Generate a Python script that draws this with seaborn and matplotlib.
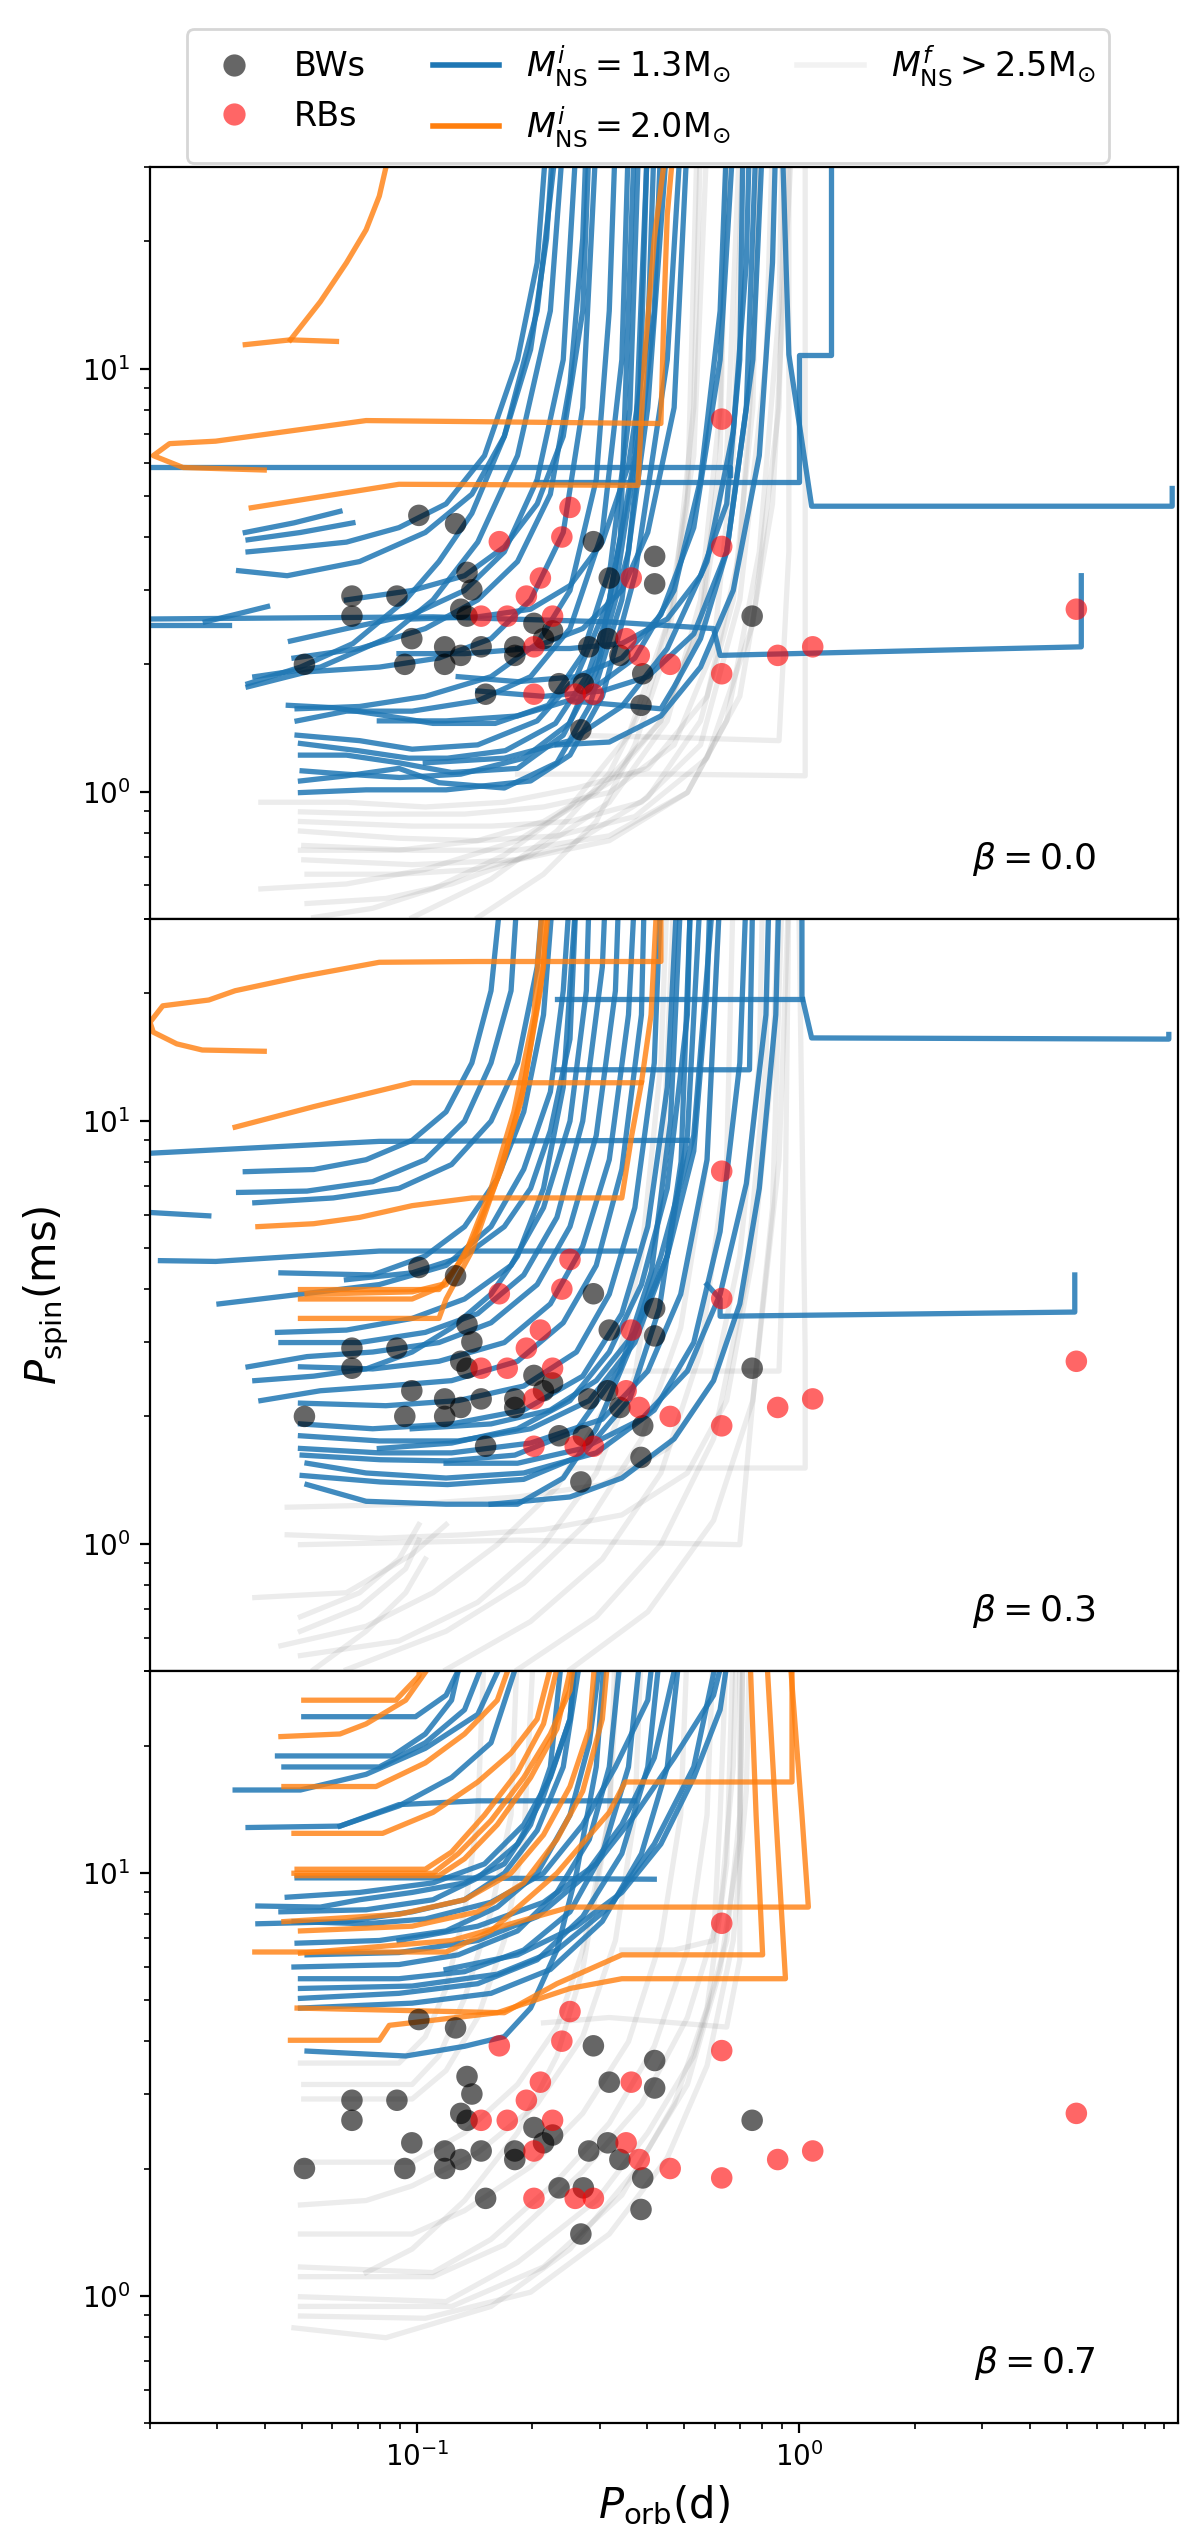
import numpy as np
import pandas as pd
import matplotlib
matplotlib.use("Agg")
import matplotlib.pyplot as plt
from matplotlib.lines import Line2D
import seaborn as sns

# ---------------- observed systems ----------------
bw_porb = [0.0507, 0.0675, 0.0675, 0.0885, 0.0928, 0.0968, 0.101, 0.126, 0.118, 0.118,
           0.130, 0.135, 0.139, 0.130, 0.135, 0.147, 0.151, 0.180, 0.180, 0.202,
           0.214, 0.226, 0.235, 0.272, 0.268, 0.281, 0.289, 0.315, 0.318, 0.339,
           0.389, 0.385, 0.418, 0.418, 0.752]
bw_pspin = [2.0, 2.9, 2.6, 2.9, 2.0, 2.3, 4.5, 4.3, 2.2, 2.0,
            2.1, 3.3, 3.0, 2.7, 2.6, 2.2, 1.7, 2.2, 2.1, 2.5,
            2.3, 2.4, 1.8, 1.8, 1.4, 2.2, 3.9, 2.3, 3.2, 2.1,
            1.9, 1.6, 3.6, 3.1, 2.6]
rb_porb = [0.251, 0.239, 0.164, 0.210, 0.193, 0.147, 0.172, 0.226, 0.202, 0.202,
           0.259, 0.289, 0.363, 0.352, 0.381, 0.459, 0.626, 0.626, 0.626, 0.877,
           1.083, 5.30]
rb_pspin = [4.7, 4.0, 3.9, 3.2, 2.9, 2.6, 2.6, 2.6, 2.2, 1.7,
            1.7, 1.7, 3.2, 2.3, 2.1, 2.0, 7.6, 3.8, 1.9, 2.1,
            2.2, 2.7]

beta_labels = ["0.0", "0.3", "0.7"]

# ---------------- evolutionary tracks, beta = 0.0 ----------------
blue_b00 = [
    ([0.0355, 0.0476, 0.0628], [4.10, 4.32, 4.60]),
    ([0.0361, 0.0495, 0.0679], [3.94, 4.10, 4.32]),
    ([0.0361, 0.0495, 0.0653, 0.0896, 0.119, 0.150, 0.183, 0.206, 0.218], [3.69, 3.79, 3.89, 4.21, 4.79, 6.23, 10.5, 17.8, 35]),
    ([0.0341, 0.0457, 0.0707, 0.105, 0.139, 0.169, 0.198, 0.218, 0.227], [3.33, 3.24, 3.50, 4.10, 5.05, 6.92, 11.1, 20.3, 35]),
    ([0.0361, 0.0495, 0.0679, 0.0933, 0.114, 0.139, 0.169, 0.206, 0.232], [1.80, 1.97, 2.24, 2.84, 3.50, 4.55, 6.92, 13.7, 35]),
    ([0.0376, 0.0558, 0.0828, 0.110, 0.144, 0.183, 0.223, 0.241], [1.87, 1.97, 2.30, 2.84, 3.89, 6.23, 13.7, 35]),
    ([0.0466, 0.0653, 0.097, 0.133, 0.169, 0.206, 0.241, 0.261], [2.27, 2.43, 2.62, 2.99, 3.69, 5.47, 10.5, 35]),
    ([0.0476, 0.0707, 0.105, 0.144, 0.183, 0.223, 0.251, 0.271, 0.277], [2.07, 2.18, 2.43, 2.84, 3.50, 5.05, 9.23, 20.3, 35]),
    ([0.0361, 0.0515, 0.0796, 0.114, 0.156, 0.198, 0.241, 0.271, 0.294], [1.77, 1.92, 1.97, 2.07, 2.30, 2.84, 4.10, 8.09, 35]),
    ([0.0485, 0.0707, 0.105, 0.156, 0.206, 0.251, 0.294, 0.318, 0.330], [1.57, 1.59, 1.68, 1.87, 2.24, 2.99, 5.47, 13.7, 35]),
    ([0.0485, 0.0653, 0.097, 0.144, 0.198, 0.251, 0.305, 0.343, 0.357], [1.47, 1.55, 1.55, 1.64, 1.87, 2.43, 4.10, 10.5, 35]),
    ([0.0485, 0.0707, 0.097, 0.144, 0.206, 0.261, 0.318, 0.371, 0.401], [1.36, 1.32, 1.26, 1.29, 1.47, 1.87, 2.84, 6.23, 35]),
    ([0.0495, 0.0653, 0.0896, 0.123, 0.183, 0.241, 0.294, 0.357, 0.417, 0.434], [1.22, 1.22, 1.17, 1.11, 1.135, 1.36, 1.92, 3.69, 13.7, 35]),
    ([0.0495, 0.0653, 0.0896, 0.114, 0.169, 0.232, 0.282, 0.343, 0.401, 0.451], [1.06, 1.09, 1.135, 1.05, 1.02, 1.17, 1.59, 2.84, 8.09, 35]),
    ([0.0495, 0.0735, 0.119, 0.198, 0.251, 0.305, 0.371, 0.451, 0.489], [0.995, 1.01, 1.01, 1.06, 1.22, 1.68, 3.24, 10.5, 35]),
    ([0.0495, 0.070, 0.095, 0.120, 0.170, 0.230, 0.280, 0.330, 0.380, 0.400], [1.30, 1.25, 1.20, 1.20, 1.25, 1.45, 1.90, 3.00, 7.00, 35]),
    ([0.0460, 0.060, 0.080, 0.110, 0.160, 0.220, 0.270, 0.320, 0.360, 0.380], [1.60, 1.58, 1.52, 1.45, 1.45, 1.60, 2.10, 3.40, 8.00, 35]),
    ([0.0500, 0.065, 0.090, 0.130, 0.190, 0.250, 0.300, 0.340, 0.370], [1.12, 1.10, 1.08, 1.10, 1.20, 1.45, 2.10, 4.00, 35]),
    ([0.128, 0.183, 0.261, 0.343, 0.434, 0.529, 0.620, 0.671], [1.87, 1.82, 1.87, 2.07, 2.62, 4.21, 10.5, 35]),
    ([0.144, 0.214, 0.305, 0.401, 0.529, 0.645, 0.755, 0.801], [1.73, 1.68, 1.73, 1.87, 2.36, 3.69, 10.5, 35]),
    ([0.232, 0.318, 0.434, 0.551, 0.671, 0.785, 0.850, 0.867], [1.29, 1.31, 1.51, 1.97, 2.99, 6.23, 17.8, 35]),
    ([0.0896, 0.133, 0.198, 0.271, 0.343, 0.401, 0.470, 0.509], [2.12, 2.12, 2.18, 2.43, 2.99, 4.10, 8.09, 35]),
    ([0.097, 0.144, 0.198, 0.251, 0.305, 0.357, 0.401, 0.417], [2.56, 2.59, 2.70, 3.07, 3.89, 5.91, 12.0, 35]),
    ([0.0653, 0.097, 0.133, 0.169, 0.206, 0.241, 0.271, 0.282], [2.84, 2.99, 3.24, 3.79, 4.79, 6.92, 13.7, 35]),
    ([0.251, 0.371, 0.434, 0.470, 0.551, 0.645, 0.726, 0.770], [1.64, 1.59, 1.57, 1.77, 2.30, 3.69, 8.09, 35]),
    ([0.183, 0.251, 0.343, 0.451, 0.551, 0.645, 0.698, 0.712], [2.18, 2.18, 2.24, 2.56, 3.24, 4.79, 10.5, 35]),
    ([0.0796, 0.119, 0.183, 0.271, 0.371, 0.470, 0.551, 0.620, 0.645], [1.47, 1.47, 1.51, 1.68, 2.07, 2.99, 5.47, 13.7, 35]),
    ([0.105, 0.169, 0.251, 0.343, 0.451, 0.573, 0.671, 0.726, 0.740], [1.17, 1.20, 1.32, 1.59, 2.18, 3.50, 7.10, 17.8, 35]),
    ([0.020, 0.097, 0.658, 0.658], [5.84, 5.84, 5.84, 5.62]),
    ([0.020, 0.0321], [2.48, 2.48]),
    ([0.0279, 0.0406], [2.52, 2.74]),
    ([0.020, 0.110, 0.318, 0.596, 0.620, 3.53, 5.46, 5.46], [2.56, 2.59, 2.52, 2.43, 2.10, 2.18, 2.20, 3.24]),
    ([0.206, 0.995, 0.995, 1.21, 1.21], [5.40, 5.40, 10.8, 10.8, 35]),
    ([9.44, 9.44, 1.076, 0.938, 0.901], [5.21, 4.73, 4.73, 10.8, 35]),
]
orange_b00 = [
    ([0.0615, 0.0466, 0.0355], [11.6, 11.7, 11.4]),
    ([0.0466, 0.0558, 0.0653, 0.0735, 0.0796, 0.0862], [11.7, 14.4, 17.8, 21.3, 25.6, 35]),
    ([0.0398, 0.0244, 0.0204, 0.0225, 0.0297, 0.0735, 0.434, 0.442, 0.451, 0.470], [5.76, 5.84, 6.23, 6.65, 6.74, 7.54, 7.42, 13.7, 23.1, 35]),
    ([0.0368, 0.0896, 0.378, 0.393, 0.417, 0.451], [4.69, 5.33, 5.30, 10.5, 20.3, 35]),
]
grey_b00 = [
    ([0.0390, 0.0653, 0.105, 0.169, 0.261, 0.401, 0.573, 0.698, 0.755, 0.785], [0.944, 0.944, 0.920, 0.944, 1.02, 1.135, 1.68, 3.69, 10.5, 35]),
    ([0.0495, 0.0796, 0.133, 0.214, 0.318, 0.470, 0.596, 0.671, 0.712], [0.896, 0.885, 0.885, 0.920, 0.995, 1.29, 2.18, 6.23, 35]),
    ([0.0495, 0.097, 0.156, 0.251, 0.386, 0.551, 0.698, 0.817, 0.850], [0.850, 0.829, 0.829, 0.850, 0.944, 1.29, 2.84, 10.5, 35]),
    ([0.0495, 0.0896, 0.144, 0.232, 0.371, 0.573, 0.755, 0.884, 0.919], [0.807, 0.776, 0.766, 0.786, 0.873, 1.20, 2.49, 8.09, 35]),
    ([0.0505, 0.097, 0.183, 0.318, 0.509, 0.698, 0.850, 0.956], [0.746, 0.727, 0.727, 0.786, 0.995, 1.68, 4.79, 35]),
    ([0.0505, 0.097, 0.183, 0.318, 0.509, 0.645, 0.785, 0.884, 0.901], [0.690, 0.672, 0.690, 0.766, 0.995, 1.47, 3.69, 13.7, 35]),
    ([0.0515, 0.0896, 0.144, 0.251, 0.401, 0.551, 0.671, 0.755, 0.785], [0.638, 0.638, 0.655, 0.746, 0.969, 1.47, 2.84, 8.09, 35]),
    ([0.0390, 0.0653, 0.105, 0.183, 0.294, 0.434, 0.551, 0.645, 0.698], [0.589, 0.605, 0.655, 0.766, 0.995, 1.47, 2.49, 6.23, 35]),
    ([0.0515, 0.0828, 0.123, 0.198, 0.318, 0.451, 0.551, 0.620, 0.645], [0.544, 0.559, 0.605, 0.708, 0.944, 1.47, 2.84, 8.09, 35]),
    ([0.0536, 0.0765, 0.110, 0.169, 0.251, 0.357, 0.451, 0.529, 0.573], [0.504, 0.530, 0.589, 0.708, 0.920, 1.36, 2.49, 6.23, 35]),
    ([0.097, 0.156, 0.232, 0.318, 0.401, 0.470, 0.529, 0.551], [0.504, 0.621, 0.807, 1.105, 1.68, 2.84, 8.09, 35]),
    ([0.144, 0.214, 0.294, 0.371, 0.451, 0.509, 0.540], [0.504, 0.638, 0.850, 1.29, 2.18, 4.79, 35]),
    ([0.0495, 0.0896, 0.144, 0.214, 0.318, 0.434, 0.551, 0.620, 0.645], [0.727, 0.727, 0.766, 0.850, 1.05, 1.47, 2.49, 6.23, 35]),
    ([0.183, 0.470, 1.035, 1.035, 1.035], [1.10, 1.10, 1.09, 2.18, 35]),
    ([0.251, 0.509, 0.884, 0.938, 0.938], [1.36, 1.34, 1.32, 3.69, 35]),
]

# ---------------- evolutionary tracks, beta = 0.3 ----------------
blue_b03 = [
    ([0.020, 0.0796, 0.509], [8.38, 8.94, 8.99]),
    ([0.020, 0.0285], [6.07, 5.96]),
    ([0.0213, 0.0297, 0.0796, 0.371], [4.67, 4.65, 4.92, 4.92]),
    ([9.25, 9.25, 1.076, 1.015, 1.015], [16.0, 15.6, 15.7, 19.7, 35]),
    ([0.232, 1.015], [19.4, 19.4]),
    ([0.232, 0.740, 0.755], [13.2, 13.2, 35]),
    ([0.573, 0.620, 0.620, 5.25, 5.25], [4.10, 3.79, 3.45, 3.53, 4.32]),
    ([0.0355, 0.0536, 0.0735, 0.097, 0.119, 0.139, 0.156, 0.166], [7.58, 7.67, 8.09, 8.99, 10.5, 13.7, 20.3, 35]),
    ([0.0341, 0.0515, 0.0765, 0.105, 0.133, 0.156, 0.176, 0.183], [6.77, 6.82, 7.18, 8.09, 9.98, 13.7, 20.3, 35]),
    ([0.0376, 0.0603, 0.0896, 0.123, 0.156, 0.183, 0.206, 0.214], [6.40, 6.57, 6.92, 7.88, 9.98, 13.7, 23.1, 35]),
    ([0.0440, 0.0765, 0.105, 0.133, 0.162, 0.190, 0.214, 0.227], [4.37, 4.32, 4.79, 5.62, 7.29, 10.5, 17.8, 35]),
    ([0.0303, 0.0495, 0.0796, 0.119, 0.156, 0.190, 0.223, 0.241, 0.251], [3.69, 3.89, 4.10, 4.55, 5.62, 7.68, 11.7, 20.3, 35]),
    ([0.0431, 0.0653, 0.097, 0.133, 0.176, 0.214, 0.251, 0.277, 0.282], [3.16, 3.20, 3.41, 3.79, 4.55, 6.23, 9.98, 20.3, 35]),
    ([0.0440, 0.0707, 0.105, 0.144, 0.190, 0.232, 0.271, 0.305, 0.311], [2.99, 2.99, 3.16, 3.50, 4.32, 5.91, 9.98, 23.1, 35]),
    ([0.0361, 0.0515, 0.0765, 0.114, 0.156, 0.206, 0.251, 0.294, 0.330, 0.337], [2.62, 2.77, 2.84, 2.99, 3.33, 4.10, 5.62, 9.23, 20.3, 35]),
    ([0.0495, 0.0765, 0.114, 0.169, 0.223, 0.271, 0.318, 0.357, 0.371], [2.62, 2.59, 2.70, 2.99, 3.69, 5.05, 8.09, 17.8, 35]),
    ([0.0390, 0.0558, 0.0828, 0.123, 0.183, 0.241, 0.294, 0.343, 0.386, 0.393], [2.18, 2.30, 2.36, 2.43, 2.70, 3.33, 4.55, 7.68, 17.8, 35]),
    ([0.0495, 0.0828, 0.128, 0.190, 0.261, 0.318, 0.371, 0.417, 0.434], [2.15, 2.12, 2.18, 2.36, 2.84, 3.89, 6.23, 13.7, 35]),
    ([0.0495, 0.0765, 0.123, 0.190, 0.271, 0.343, 0.401, 0.451, 0.479], [1.92, 1.87, 1.92, 2.07, 2.49, 3.50, 5.62, 12.0, 35]),
    ([0.0495, 0.0796, 0.128, 0.198, 0.282, 0.371, 0.451, 0.509, 0.551], [1.80, 1.75, 1.75, 1.87, 2.18, 2.99, 4.79, 9.23, 35]),
    ([0.0495, 0.0796, 0.123, 0.198, 0.305, 0.401, 0.489, 0.573, 0.620], [1.68, 1.64, 1.64, 1.73, 1.97, 2.56, 3.89, 8.09, 35]),
    ([0.0515, 0.0735, 0.119, 0.190, 0.294, 0.417, 0.529, 0.620, 0.698, 0.726], [1.55, 1.47, 1.43, 1.47, 1.64, 2.07, 2.99, 5.47, 13.7, 35]),
    ([0.0515, 0.0735, 0.119, 0.183, 0.241, 0.294, 0.357, 0.434, 0.529, 0.596], [1.38, 1.26, 1.24, 1.24, 1.43, 1.87, 2.84, 4.79, 9.23, 35]),
    ([0.0500, 0.080, 0.120, 0.190, 0.270, 0.360, 0.430, 0.490, 0.520], [1.45, 1.40, 1.38, 1.42, 1.62, 2.20, 3.60, 8.00, 35]),
    ([0.0500, 0.080, 0.120, 0.180, 0.260, 0.340, 0.410, 0.460, 0.490], [1.62, 1.58, 1.57, 1.62, 1.85, 2.60, 4.40, 10.0, 35]),
    ([0.0796, 0.123, 0.183, 0.251, 0.318, 0.386, 0.451, 0.509, 0.519], [1.68, 1.73, 1.87, 2.18, 2.84, 4.10, 6.92, 17.8, 35]),
    ([0.097, 0.156, 0.223, 0.294, 0.371, 0.451, 0.529, 0.573, 0.584], [1.87, 1.92, 2.07, 2.43, 3.16, 4.79, 8.48, 20.3, 35]),
    ([0.119, 0.183, 0.271, 0.386, 0.509, 0.620, 0.726, 0.817, 0.833], [1.55, 1.55, 1.68, 1.97, 2.56, 3.89, 7.10, 17.8, 35]),
    ([0.0376, 0.0536, 0.0735, 0.097, 0.123, 0.156, 0.183, 0.214, 0.241, 0.261], [2.43, 2.49, 2.59, 2.84, 3.24, 3.89, 4.79, 6.92, 12.0, 35]),
    ([0.0653, 0.097, 0.133, 0.169, 0.198, 0.223, 0.251, 0.261], [4.21, 4.37, 4.79, 5.62, 6.92, 9.47, 15.6, 35]),
    ([0.156, 0.251, 0.343, 0.470, 0.596, 0.698, 0.785, 0.867, 0.884], [1.24, 1.29, 1.43, 1.77, 2.43, 3.69, 6.92, 17.8, 35]),
]
orange_b03 = [
    ([0.0398, 0.0274, 0.0235, 0.0204, 0.0200, 0.0216, 0.0285, 0.0334, 0.0495, 0.0796, 0.144, 0.434, 0.434],
     [14.6, 14.7, 15.2, 16.2, 17.1, 18.7, 19.3, 20.3, 21.9, 23.7, 23.8, 23.8, 35]),
    ([0.0334, 0.0536, 0.097, 0.386, 0.409, 0.425], [9.66, 10.8, 12.3, 12.3, 17.8, 35]),
    ([0.0383, 0.0536, 0.0707, 0.097, 0.139, 0.343, 0.364, 0.386], [5.62, 5.71, 5.91, 6.30, 6.57, 6.57, 9.23, 12.3]),
    ([0.0495, 0.114, 0.133, 0.156, 0.179, 0.202, 0.214], [3.99, 3.99, 4.79, 6.92, 10.5, 17.8, 35]),
    ([0.0495, 0.114, 0.119, 0.139, 0.162, 0.187, 0.210, 0.223], [3.41, 3.41, 3.79, 4.92, 7.29, 11.1, 20.3, 35]),
    ([0.0495, 0.097, 0.119, 0.141, 0.166, 0.190, 0.214, 0.218], [3.79, 3.79, 4.10, 5.33, 7.68, 12.0, 23.1, 35]),
    ([0.0515, 0.097, 0.116], [3.89, 3.94, 4.10]),
]
grey_b03 = [
    ([0.0457, 0.0796, 0.133, 0.214, 0.343, 0.509, 0.645, 0.755, 0.850, 0.884], [1.05, 1.03, 1.05, 1.08, 1.17, 1.47, 2.18, 4.79, 13.7, 35]),
    ([0.0376, 0.0653, 0.097, 0.119], [0.746, 0.766, 0.944, 1.11]),
    ([0.0495, 0.0707, 0.0896, 0.101], [0.672, 0.766, 0.920, 1.11]),
    ([0.0495, 0.0707, 0.0933, 0.101], [0.621, 0.708, 0.873, 1.02]),
    ([0.0536, 0.0735, 0.0933, 0.105], [0.504, 0.621, 0.766, 0.920]),
    ([0.0440, 0.0735, 0.110, 0.162, 0.232, 0.318, 0.386, 0.434, 0.451], [0.574, 0.638, 0.766, 0.995, 1.36, 2.18, 4.79, 13.7, 35]),
    ([0.0495, 0.0896, 0.144, 0.214, 0.294, 0.371, 0.434, 0.470], [0.544, 0.589, 0.727, 0.995, 1.47, 2.49, 6.23, 35]),
    ([0.0653, 0.119, 0.190, 0.282, 0.386, 0.489, 0.573, 0.620], [0.504, 0.621, 0.807, 1.135, 1.77, 3.24, 8.09, 35]),
    ([0.119, 0.198, 0.305, 0.434, 0.551, 0.645, 0.671], [0.504, 0.655, 0.920, 1.47, 2.84, 8.09, 35]),
    ([0.183, 0.294, 0.434, 0.596, 0.726, 0.817, 0.833], [0.504, 0.672, 0.995, 1.77, 4.21, 13.7, 35]),
    ([0.251, 0.401, 0.596, 0.755, 0.850, 0.901], [0.504, 0.690, 1.135, 2.18, 6.23, 35]),
    ([0.0495, 0.183, 0.698, 0.755, 0.884, 0.938], [0.995, 1.02, 0.995, 2.18, 8.09, 35]),
    ([0.251, 1.035, 1.035, 0.995], [1.51, 1.51, 2.84, 35]),
    ([0.318, 0.884, 0.919, 0.938], [2.56, 2.56, 6.92, 35]),
    ([0.0457, 0.097, 0.183, 0.305, 0.451, 0.596, 0.698, 0.785, 0.801], [1.22, 1.24, 1.29, 1.38, 1.68, 2.43, 4.79, 13.7, 35]),
]

# ---------------- evolutionary tracks, beta = 0.7 ----------------
blue_b07 = [
    ([0.0505, 0.099, 0.119, 0.139], [23.4, 23.4, 26.3, 35]),
    ([0.0431, 0.0862, 0.105, 0.123, 0.133], [18.9, 18.9, 21.3, 25.6, 35]),
    ([0.0448, 0.0796, 0.105, 0.133, 0.156], [17.8, 17.8, 20.3, 24.3, 35]),
    ([0.0334, 0.0495, 0.0735, 0.105, 0.144, 0.176], [15.7, 15.7, 17.1, 19.7, 23.7, 35]),
    ([0.0361, 0.0628, 0.0896, 0.123, 0.156, 0.190], [12.8, 12.9, 14.4, 16.8, 20.3, 35]),
    ([0.0628, 0.0896, 0.144, 0.371], [12.9, 14.5, 14.8, 14.8]),
    ([0.0485, 0.119, 0.417], [9.73, 9.73, 9.66]),
    ([0.0383, 0.0558, 0.0707, 0.097, 0.133, 0.169, 0.198, 0.223, 0.241], [8.35, 8.30, 8.64, 8.99, 9.47, 10.5, 13.0, 17.8, 35]),
    ([0.0383, 0.0653, 0.097, 0.133, 0.169, 0.206, 0.241, 0.271], [7.58, 7.67, 8.09, 8.64, 9.98, 12.6, 17.8, 35]),
    ([0.0485, 0.0796, 0.119, 0.162, 0.206, 0.251, 0.282, 0.305], [6.82, 6.92, 7.29, 8.30, 9.98, 13.7, 20.3, 35]),
    ([0.0476, 0.0896, 0.128, 0.183, 0.232, 0.282, 0.318, 0.343], [5.99, 6.07, 6.40, 7.29, 8.99, 12.0, 17.8, 35]),
    ([0.0495, 0.0896, 0.133, 0.190, 0.251, 0.305, 0.357, 0.386], [5.62, 5.62, 5.84, 6.57, 8.09, 11.1, 17.8, 35]),
    ([0.0495, 0.0896, 0.144, 0.206, 0.271, 0.343, 0.401, 0.434], [5.05, 5.19, 5.47, 6.23, 7.88, 11.1, 17.8, 35]),
    ([0.0495, 0.097, 0.156, 0.223, 0.305, 0.386, 0.451, 0.489], [4.79, 4.92, 5.19, 5.91, 7.68, 11.1, 17.8, 35]),
    ([0.0515, 0.0933, 0.133, 0.169, 0.198, 0.232, 0.261, 0.294, 0.311], [3.79, 3.69, 3.89, 4.10, 4.79, 6.57, 9.98, 17.8, 35]),
    ([0.0440, 0.0735, 0.110, 0.144, 0.183, 0.214, 0.251, 0.261], [8.09, 8.18, 8.64, 9.73, 11.7, 15.2, 23.1, 35]),
    ([0.0515, 0.0896, 0.144, 0.206, 0.271, 0.343, 0.417, 0.489], [6.40, 6.48, 6.92, 7.88, 9.73, 13.0, 18.7, 35]),
    ([0.0896, 0.144, 0.214, 0.294, 0.371, 0.470, 0.596, 0.645], [6.92, 7.48, 8.52, 10.5, 13.7, 18.7, 26.3, 35]),
    ([0.119, 0.183, 0.261, 0.343, 0.434, 0.529, 0.620, 0.658], [5.91, 6.40, 7.48, 8.99, 11.7, 16.8, 24.3, 35]),
    ([0.0457, 0.0707, 0.110, 0.150, 0.190, 0.223, 0.251, 0.261], [8.76, 8.99, 9.47, 10.5, 13.0, 16.8, 23.1, 35]),
    ([0.0476, 0.0735, 0.105, 0.156, 0.214, 0.271, 0.330, 0.401, 0.417], [7.67, 7.58, 7.78, 8.52, 9.98, 13.0, 17.8, 25.6, 35]),
    ([0.0495, 0.097, 0.162, 0.232, 0.318, 0.417, 0.529, 0.620], [5.33, 5.40, 5.76, 6.57, 8.30, 11.7, 17.8, 35]),
]
orange_b07 = [
    ([0.0505, 0.0879, 0.101, 0.103], [25.6, 25.6, 29.2, 35]),
    ([0.0440, 0.0628, 0.0735, 0.0933, 0.119], [21.0, 21.3, 22.5, 25.6, 35]),
    ([0.0448, 0.0780, 0.105, 0.133, 0.162, 0.183], [16.0, 16.0, 18.2, 21.3, 25.6, 35]),
    ([0.0476, 0.0812, 0.110, 0.144, 0.176, 0.206, 0.232], [12.4, 12.4, 13.9, 16.4, 19.2, 23.1, 35]),
    ([0.0476, 0.110, 0.128, 0.156, 0.190, 0.223, 0.251, 0.261], [9.98, 9.98, 11.1, 13.3, 16.8, 21.3, 27.0, 35]),
    ([0.0485, 0.114, 0.133, 0.162, 0.198, 0.232, 0.261], [9.85, 9.85, 10.8, 13.0, 16.8, 21.9, 35]),
    ([0.0485, 0.105, 0.123, 0.150, 0.183, 0.214, 0.241], [10.2, 10.2, 11.2, 13.7, 17.3, 22.5, 35]),
    ([0.0448, 0.0896, 0.133, 0.176, 0.214, 0.251, 0.282, 0.294], [7.67, 7.98, 8.64, 9.98, 12.3, 16.0, 21.9, 35]),
    ([0.0376, 0.119, 0.156, 0.232, 0.318, 0.350, 0.956, 0.956], [6.50, 6.50, 7.29, 9.98, 13.9, 16.4, 16.4, 35]),
    ([0.0495, 0.123, 0.251, 1.055, 1.015, 0.938], [6.46, 6.92, 8.30, 8.30, 13.7, 35]),
    ([0.0485, 0.169, 0.232, 0.343, 0.801, 0.770, 0.740], [4.79, 4.67, 5.47, 6.40, 6.40, 13.7, 35]),
    ([0.0466, 0.0796, 0.0845, 0.162, 0.251, 0.343, 0.919, 0.867, 0.817], [4.02, 4.02, 4.36, 4.67, 5.33, 5.62, 5.62, 13.7, 35]),
    ([0.0495, 0.097, 0.144, 0.190, 0.232, 0.271, 0.305, 0.318], [7.29, 7.48, 8.09, 9.47, 12.0, 15.6, 23.1, 35]),
]
grey_b07 = [
    ([0.0495, 0.0896, 0.105, 0.119, 0.133, 0.144, 0.150], [3.55, 3.55, 4.10, 5.33, 8.09, 13.7, 35]),
    ([0.0505, 0.097, 0.114, 0.133, 0.156, 0.176, 0.183], [3.16, 3.16, 3.69, 5.05, 8.09, 13.7, 35]),
    ([0.0505, 0.097, 0.119, 0.144, 0.169, 0.190, 0.202], [2.92, 2.92, 3.41, 4.55, 6.92, 12.0, 35]),
    ([0.0495, 0.097, 0.133, 0.183, 0.232, 0.271, 0.318, 0.330], [2.07, 2.07, 2.43, 3.16, 4.32, 6.57, 13.7, 35]),
    ([0.0495, 0.0735, 0.097, 0.144, 0.206, 0.271, 0.330, 0.371, 0.386], [1.64, 1.68, 1.82, 2.18, 2.84, 4.10, 6.92, 13.7, 35]),
    ([0.0495, 0.097, 0.133, 0.198, 0.271, 0.357, 0.434, 0.489, 0.509], [1.40, 1.40, 1.59, 2.02, 2.70, 3.99, 6.92, 13.7, 35]),
    ([0.0495, 0.110, 0.156, 0.232, 0.318, 0.417, 0.509, 0.573, 0.596], [1.17, 1.135, 1.36, 1.87, 2.56, 3.89, 6.57, 13.7, 35]),
    ([0.0495, 0.110, 0.169, 0.271, 0.386, 0.509, 0.620, 0.671, 0.684], [1.11, 1.11, 1.32, 1.97, 2.84, 4.55, 8.09, 17.8, 35]),
    ([0.0495, 0.119, 0.183, 0.294, 0.401, 0.529, 0.645, 0.698, 0.712], [0.995, 0.969, 1.20, 1.68, 2.43, 3.69, 6.92, 13.7, 35]),
    ([0.0495, 0.123, 0.214, 0.343, 0.470, 0.573, 0.645, 0.671], [0.944, 0.944, 1.17, 1.73, 2.84, 4.79, 10.5, 35]),
    ([0.0476, 0.0828, 0.156, 0.251, 0.371, 0.509, 0.620, 0.698, 0.712], [0.840, 0.796, 0.944, 1.29, 1.97, 3.16, 5.91, 12.0, 35]),
    ([0.0735, 0.097, 0.133, 0.183, 0.232, 0.271, 0.318, 0.337], [1.135, 1.29, 1.68, 2.43, 3.69, 5.91, 13.7, 35]),
    ([0.214, 0.318, 0.645, 0.698, 0.698], [4.42, 4.55, 4.32, 6.23, 35]),
    ([0.343, 0.470, 0.596, 0.620, 0.645], [6.57, 6.57, 6.92, 13.7, 35]),
    ([0.0495, 0.105, 0.198, 0.318, 0.451, 0.573, 0.671, 0.726, 0.740], [0.896, 0.885, 1.02, 1.40, 2.12, 3.50, 6.92, 15.6, 35]),
]

panels = [
    (blue_b00, orange_b00, grey_b00),
    (blue_b03, orange_b03, grey_b03),
    (blue_b07, orange_b07, grey_b07),
]

BLUE = "#1f77b4"
ORANGE = "#ff7f0e"
LW = 1.9


def tracks_frame(tracks):
    rows = []
    for k, (p, s) in enumerate(tracks):
        for a, b in zip(p, s):
            rows.append((k, a, b))
    return pd.DataFrame(rows, columns=["track", "P", "S"])


fig, axes = plt.subplots(3, 1, figsize=(6, 12.74), dpi=200, sharex=True)
fig.subplots_adjust(left=0.125, right=0.982, top=0.9345, bottom=0.049, hspace=0)

for ax, (blue, orange, grey), blab in zip(axes, panels, beta_labels):
    sns.lineplot(data=tracks_frame(grey), x="P", y="S", units="track", estimator=None,
                 sort=False, color="grey", alpha=0.15, lw=LW, ax=ax, legend=False)
    sns.lineplot(data=tracks_frame(blue), x="P", y="S", units="track", estimator=None,
                 sort=False, color=BLUE, alpha=0.85, lw=LW, ax=ax, legend=False)
    sns.lineplot(data=tracks_frame(orange), x="P", y="S", units="track", estimator=None,
                 sort=False, color=ORANGE, alpha=0.8, lw=LW, ax=ax, legend=False)
    sns.scatterplot(x=bw_porb, y=bw_pspin, color="black", alpha=0.6, s=60,
                    edgecolor="none", ax=ax, zorder=5, legend=False)
    sns.scatterplot(x=rb_porb, y=rb_pspin, color="red", alpha=0.6, s=60,
                    edgecolor="none", ax=ax, zorder=5, legend=False)
    ax.set_xscale("log")
    ax.set_yscale("log")
    ax.set_xlim(0.02, 9.8)
    ax.set_ylim(0.5, 30)
    ax.set_xlabel("")
    ax.set_ylabel("")
    ax.text(0.86, 0.08, r"$\beta = %s$" % blab, transform=ax.transAxes,
            ha="center", va="center", fontsize=13)

axes[1].set_ylabel(r"$P_{\rm spin}({\rm ms})$", fontsize=15)
axes[2].set_xlabel(r"$P_{\rm orb}({\rm d})$", fontsize=15)

handles = [
    Line2D([], [], marker="o", ls="none", color="black", alpha=0.6, markersize=8, markeredgewidth=0),
    Line2D([], [], marker="o", ls="none", color="red", alpha=0.6, markersize=8, markeredgewidth=0),
    Line2D([], [], color=BLUE, lw=2),
    Line2D([], [], color=ORANGE, lw=2),
    Line2D([], [], color="grey", alpha=0.1, lw=2),
]
labels = ["BWs", "RBs",
          r"$M_{\rm NS}^{i}=1.3{\rm M}_{\odot}$",
          r"$M_{\rm NS}^{i}=2.0{\rm M}_{\odot}$",
          r"$M_{\rm NS}^{f}>2.5{\rm M}_{\odot}$"]
fig.legend(handles, labels, ncol=3, loc="upper center", bbox_to_anchor=(0.54, 0.995),
           fontsize=12, frameon=True)

fig.savefig("out.png", dpi=200)
